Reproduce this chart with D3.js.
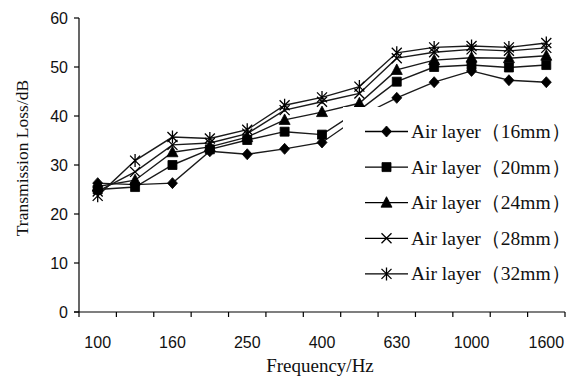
<!DOCTYPE html>
<html>
<head>
<meta charset="utf-8" />
<title>Transmission loss</title>
<script src="https://cdn.jsdelivr.net/npm/d3@7/dist/d3.min.js"></script>
<style>
body { margin: 0; background: #fff; }
svg { display: block; }
.tick-label { font-family: "Liberation Sans", Arial, sans-serif; font-size: 16px; fill: #111; }
.title { font-family: "Liberation Serif", "Times New Roman", serif; fill: #111; }
.legend-text { font-family: "Liberation Serif", "Times New Roman", serif; font-size: 19.5px; fill: #111; }
</style>
</head>
<body>
<svg id="chart"></svg>
<script>
// data
var freqs = ["100","125","160","200","250","315","400","500","630","800","1000","1250","1600"];
var freqLabels = ["100","160","250","400","630","1000","1600"];
var yTicks = [0,10,20,30,40,50,60];

var air16 = [26.3, 26.0, 26.3, 32.8, 32.2, 33.3, 34.6, 39.9, 43.7, 46.9, 49.2, 47.3, 46.9];
var air20 = [25.0, 25.5, 30.0, 33.2, 35.1, 36.8, 36.2, 41.2, 47.0, 50.0, 50.4, 49.9, 50.4];
var air24 = [25.6, 26.9, 32.6, 33.7, 35.7, 39.2, 40.8, 42.6, 49.4, 51.4, 51.9, 51.8, 52.3];
var air28 = [24.6, 28.6, 34.1, 34.5, 36.4, 41.2, 42.9, 44.6, 51.8, 53.0, 53.6, 53.3, 53.9];
var air32 = [23.7, 30.9, 35.7, 35.4, 37.2, 42.2, 43.8, 46.0, 52.9, 54.0, 54.3, 54.0, 54.9];

var seriesNames = ["Air layer（16mm）","Air layer（20mm）","Air layer（24mm）","Air layer（28mm）","Air layer（32mm）"];
var seriesValues = [air16, air20, air24, air28, air32];
var seriesMarks = ["diamond","square","triangle","cross","star"];

var W = 576, H = 377;
var margin = { top: 18, right: 11, bottom: 65, left: 79 };

var svg = d3.select("#chart").attr("width", W).attr("height", H);

var x = d3.scaleBand().domain(freqs).range([margin.left, W - margin.right]);
var y = d3.scaleLinear().domain([0, 60]).range([H - margin.bottom, margin.top]);
var cx = function(d) { return x(d) + x.bandwidth() / 2; };

// marker shapes
function markPath(kind) {
	switch (kind) {
		case "diamond":  return "M0,-5.5L5,0L0,5.5L-5,0Z";
		case "square":   return "M-4.5,-4.5H4.5V4.5H-4.5Z";
		case "triangle": return "M0,-6L5.5,4.5H-5.5Z";
		case "cross":    return "M-5,-5L5,5M-5,5L5,-5";
		case "star":     return "M-5,-5L5,5M-5,5L5,-5M0,-6.5V6.5";
	}
}
function drawMark(g, kind, px, py) {
	var filled = (kind === "diamond" || kind === "square" || kind === "triangle");
	g.append("path")
		.attr("d", markPath(kind))
		.attr("transform", "translate(" + px + "," + py + ")")
		.attr("fill", filled ? "#000" : "none")
		.attr("stroke", "#000")
		.attr("stroke-width", filled ? 0.8 : 1.3);
}

// series
var line = d3.line().x(function(d, i) { return cx(freqs[i]); }).y(function(d) { return y(d); });
var plot = svg.append("g");
seriesValues.forEach(function(vals, k) {
	plot.append("path")
		.attr("d", line(vals))
		.attr("fill", "none")
		.attr("stroke", "#1a1a1a")
		.attr("stroke-width", 1.4);
});
seriesValues.forEach(function(vals, k) {
	vals.forEach(function(v, i) {
		drawMark(plot, seriesMarks[k], cx(freqs[i]), y(v));
	});
});

// y axis
var yAxis = svg.append("g").attr("transform", "translate(" + margin.left + ",0)");
yAxis.append("line")
	.attr("x1", 0).attr("x2", 0)
	.attr("y1", y(60)).attr("y2", y(0))
	.attr("stroke", "#000").attr("stroke-width", 1.2);
yTicks.forEach(function(t) {
	yAxis.append("line")
		.attr("x1", -5).attr("x2", 0)
		.attr("y1", y(t)).attr("y2", y(t))
		.attr("stroke", "#000").attr("stroke-width", 1.2);
	yAxis.append("text")
		.attr("class", "tick-label")
		.attr("x", -11).attr("y", y(t) + 6)
		.attr("text-anchor", "end")
		.text(t);
});

// x axis
var xAxis = svg.append("g").attr("transform", "translate(0," + y(0) + ")");
xAxis.append("line")
	.attr("x1", margin.left - 5).attr("x2", W - margin.right)
	.attr("y1", 0).attr("y2", 0)
	.attr("stroke", "#000").attr("stroke-width", 1.2);
var bounds = freqs.map(function(f) { return x(f); }).concat([x.range()[1]]);
bounds.forEach(function(b) {
	xAxis.append("line")
		.attr("x1", b).attr("x2", b)
		.attr("y1", 0).attr("y2", 5)
		.attr("stroke", "#000").attr("stroke-width", 1.2);
});
freqLabels.forEach(function(f) {
	xAxis.append("text")
		.attr("class", "tick-label")
		.attr("x", cx(f)).attr("y", 36)
		.attr("text-anchor", "middle")
		.text(f);
});

// axis titles
svg.append("text")
	.attr("class", "title")
	.attr("x", 320).attr("y", 372)
	.attr("text-anchor", "middle")
	.style("font-size", "19px")
	.text("Frequency/Hz");
svg.append("text")
	.attr("class", "title")
	.attr("transform", "translate(28,158) rotate(-90)")
	.attr("text-anchor", "middle")
	.style("font-size", "17.5px")
	.text("Transmission Loss/dB");

// legend (white box over the lines)
var legend = svg.append("g");
legend.append("rect")
	.attr("x", 343).attr("y", 107)
	.attr("width", W - 343).attr("height", 184)
	.attr("fill", "#fff");
seriesNames.forEach(function(name, k) {
	var ly = 131.5 + k * 35.6;
	legend.append("line")
		.attr("x1", 365).attr("x2", 408)
		.attr("y1", ly).attr("y2", ly)
		.attr("stroke", "#000").attr("stroke-width", 1.3);
	drawMark(legend, seriesMarks[k], 386.5, ly);
	legend.append("text")
		.attr("class", "legend-text")
		.attr("x", 411).attr("y", ly + 6.5)
		.text(name);
});
</script>
</body>
</html>
